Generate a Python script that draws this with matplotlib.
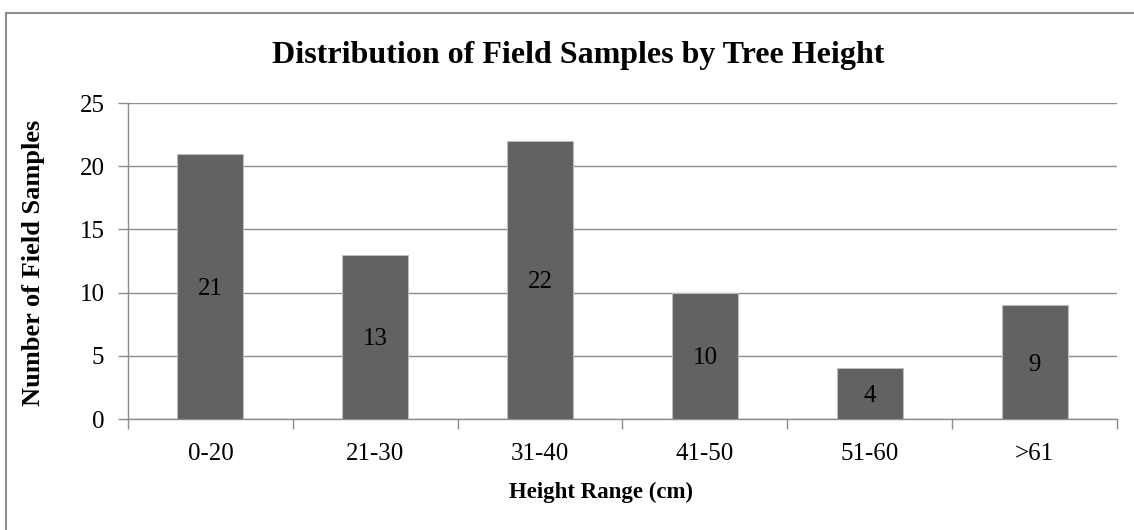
import matplotlib
matplotlib.use("Agg")
import matplotlib.pyplot as plt
from matplotlib.patches import Rectangle
import numpy as np

categories = ["0-20", "21-30", "31-40", "41-50", "51-60", ">61"]
counts = [21, 13, 22, 10, 4, 9]
y_ticks = [0, 5, 10, 15, 20, 25]

plt.rcParams["font.family"] = ["Liberation Serif", "DejaVu Serif"]

W, H = 1134, 530
fig = plt.figure(figsize=(W / 100, H / 100), dpi=100)

# outer chart border
fig.patches.append(Rectangle((6 / W, -0.05), 1.2, (H - 13) / H + 0.05,
                             transform=fig.transFigure, fill=False,
                             edgecolor="#8c8c8c", linewidth=1.5))

ax = fig.add_axes([128 / W, (H - 419) / H, (1117 - 128) / W, (419 - 103) / H])
x = np.arange(len(categories))
ax.bar(x, counts, width=0.4, color="#626262", edgecolor="#bdbdbd",
       linewidth=0.8, zorder=3)
for xi, v in zip(x, counts):
    ax.text(xi, v / 2, str(v), ha="center", va="center_baseline", fontsize=18,
            color="black", zorder=4)

ax.set_xlim(-0.5, len(categories) - 0.5)
ax.set_ylim(0, 25)
ax.set_yticks(y_ticks)
ax.yaxis.grid(True, color="#8c8c8c", linewidth=1.0, zorder=0)
ax.set_axisbelow(True)

ax.set_xticks(x)
ax.set_xticklabels(categories, fontsize=18)
ax.set_xticks(np.arange(len(categories) + 1) - 0.5, minor=True)
ax.tick_params(axis="x", which="major", length=0, pad=17)
ax.tick_params(axis="x", which="minor", length=7, color="#8c8c8c", width=1.0)
ax.tick_params(axis="y", length=7, color="#8c8c8c", width=1.0, labelsize=18, pad=10)

for side in ["top", "right"]:
    ax.spines[side].set_visible(False)
for side in ["left", "bottom"]:
    ax.spines[side].set_color("#8c8c8c")
    ax.spines[side].set_linewidth(1.0)

fig.text(601 / W, 1 - 492 / H, "Height Range (cm)", ha="center", va="center",
         fontsize=16.5, fontweight="bold")
fig.text(34 / W, 1 - 263 / H, "Number of Field Samples", ha="center", va="center",
         rotation=90, fontsize=19, fontweight="bold")

fig.text(578 / W, 1 - 55 / H, "Distribution of Field Samples by Tree Height",
         ha="center", va="center", fontsize=23, fontweight="bold")

fig.savefig("out.png", dpi=100, facecolor="white")
